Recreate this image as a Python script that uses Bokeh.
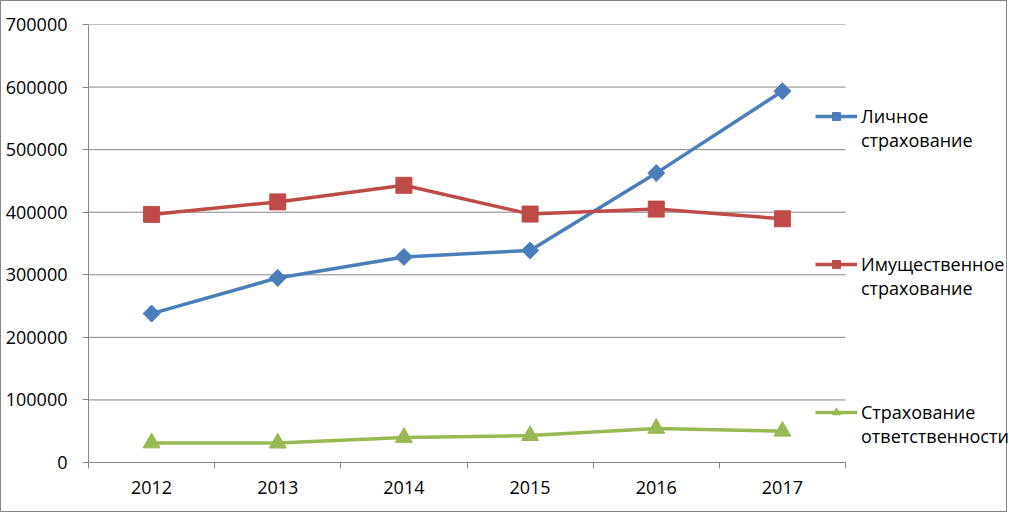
from bokeh.plotting import figure
from bokeh.models import Range1d, FixedTicker, Legend, LegendItem, BasicTickFormatter
from bokeh.embed import file_html
from bokeh.resources import INLINE
import numpy as np

years = [2012, 2013, 2014, 2015, 2016, 2017]
personal = [238000, 295000, 328500, 339000, 462500, 593500]
property_ins = [396500, 416500, 443000, 397000, 405000, 389500]
liability = [31300, 31000, 40000, 43000, 54500, 50000]

y_ticks = [0, 100000, 200000, 300000, 400000, 500000, 600000, 700000]
names = ["Личное\nстрахование", "Имущественное\nстрахование", "Страхование\nответственности"]
colors = ["#4A7EBB", "#BE4B48", "#98B954"]

FONT = "Open Sans"
GRID = "#868686"

W, H = 1007, 512
LEFT, TOP, BOTTOM = 87, 23, 51
FRAME_W = W - LEFT
PLOT_W = 757  # width of the category area
x0 = years[0] - 0.5
x1 = years[-1] + 0.5
x_end = x0 + (x1 - x0) * FRAME_W / PLOT_W

p = figure(width=W, height=H, output_backend="svg", toolbar_location=None,
           x_range=Range1d(x0, x_end), y_range=Range1d(0, 700000),
           min_border_left=LEFT, min_border_right=0, min_border_top=TOP, min_border_bottom=BOTTOM)
p.outline_line_color = None
p.background_fill_color = "white"
p.border_fill_color = "white"
p.xgrid.grid_line_color = None
p.ygrid.grid_line_color = None

# horizontal gridlines limited to the category area
p.segment(x0=[x0] * len(y_ticks), x1=[x1] * len(y_ticks), y0=y_ticks, y1=y_ticks,
          line_color=GRID, line_width=1)

p.yaxis.ticker = FixedTicker(ticks=y_ticks)
p.yaxis.formatter = BasicTickFormatter(use_scientific=False)
p.yaxis.major_tick_out = 6
p.yaxis.major_tick_in = 0
p.yaxis.minor_tick_line_color = None
p.yaxis.axis_line_color = GRID
p.yaxis.major_tick_line_color = GRID
p.yaxis.major_label_standoff = 15
p.yaxis.major_label_text_font = FONT
p.yaxis.major_label_text_font_size = "18px"
p.yaxis.major_label_text_color = "black"

p.xaxis.ticker = FixedTicker(ticks=years, minor_ticks=[y - 0.5 for y in years] + [x1])
p.xaxis.bounds = (x0, x1)
p.xaxis.formatter = BasicTickFormatter(use_scientific=False)
p.xaxis.major_tick_out = 0
p.xaxis.major_tick_in = 0
p.xaxis.minor_tick_out = 6
p.xaxis.minor_tick_in = 0
p.xaxis.minor_tick_line_color = GRID
p.xaxis.axis_line_color = GRID
p.xaxis.major_label_standoff = 12
p.xaxis.major_label_text_font = FONT
p.xaxis.major_label_text_font_size = "18px"
p.xaxis.major_label_text_color = "black"

r1 = p.line(years, personal, line_color=colors[0], line_width=3.5)
m1 = p.scatter(years, personal, marker="square", angle=np.pi / 4, size=12,
               fill_color=colors[0], line_color=colors[0])
r2 = p.line(years, property_ins, line_color=colors[1], line_width=3.5)
m2 = p.scatter(years, property_ins, marker="square", size=16, fill_color=colors[1], line_color=colors[1])
r3 = p.line(years, liability, line_color=colors[2], line_width=3.5)
m3 = p.scatter(years, liability, marker="triangle", size=17, fill_color=colors[2], line_color=colors[2])

# a leading empty line keeps each legend glyph level with the first line of its label
items = [LegendItem(label="\n" + names[0], renderers=[r1, m1]),
         LegendItem(label="\n" + names[1], renderers=[r2, m2]),
         LegendItem(label="\n" + names[2], renderers=[r3, m3])]
legend = Legend(items=items, location=(727, 14), orientation="vertical",
                glyph_width=42, glyph_height=20, label_standoff=4, spacing=76,
                padding=0, margin=0, border_line_color=None, background_fill_alpha=0,
                label_text_font=FONT, label_text_font_size="18px", label_text_color="black")
p.add_layout(legend)

p.styles = {"border": "1px solid #868686"}

open("out.html", "w").write(file_html(p, INLINE))
